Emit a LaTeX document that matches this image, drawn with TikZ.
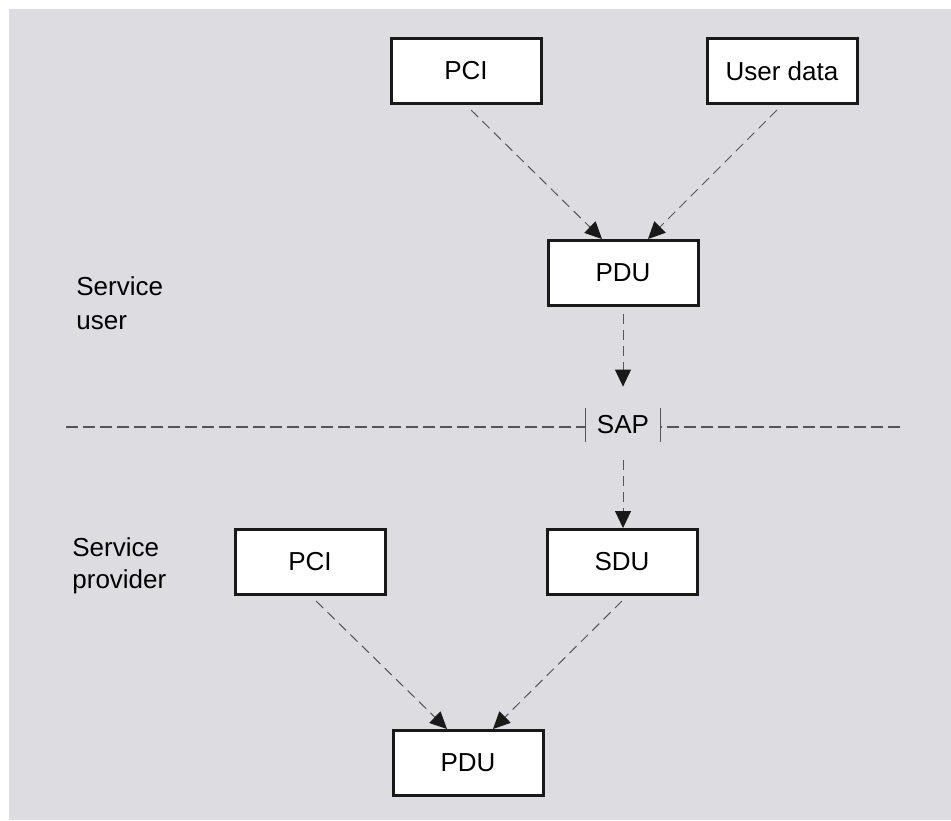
\documentclass[tikz,border=0pt]{standalone}
\usepackage{fontspec}
\setmainfont{Liberation Sans}
\usetikzlibrary{arrows.meta}

\definecolor{bgGray}{RGB}{221,221,225}
\definecolor{lineGray}{RGB}{85,85,85}

\begin{document}
\begin{tikzpicture}[x=0.5pt, y=-0.5pt,
    font=\fontsize{13}{17}\selectfont,
    unit/.style={rectangle, draw=black!90, line width=1.5pt, fill=white,
                 minimum width=75pt, minimum height=32.5pt, inner sep=0pt},
    flow/.style={draw=lineGray, line width=0.5pt, dash pattern=on 5pt off 3pt,
                 -{Triangle[length=8.5pt, width=8pt, color=black!90, fill=black!90]}},
    border/.style={draw=lineGray, line width=0.6pt, dash pattern=on 6pt off 2.5pt},
    side/.style={align=left, anchor=base west, inner sep=0pt}]

% background and margins
\useasboundingbox (0,0) rectangle (951,820);
\fill[bgGray] (9,9) rectangle (951,820);

% Service user side
\node[unit] (pcitop) at (466,71) {PCI};
\node[unit] (userdata) at (782,71) {User data};
\node[unit] (pdutop) at (623,273) {PDU};
\node[side] (user) at (76,329) {Service\\user};

% the access point
\node[minimum width=37pt, minimum height=17pt, inner sep=0pt] (sap) at (623,425) {SAP};
\draw[lineGray, line width=0.6pt] (sap.north west) -- (sap.south west)
                                  (sap.north east) -- (sap.south east);
\coordinate (lineL) at (66,427);
\coordinate (lineR) at (900,427);
\draw[border] (lineL) -- (lineL -| sap.west);
\draw[border] (lineR) -- (lineR -| sap.east);

% Service provider side
\node[unit] (pcibot) at (310,562) {PCI};
\node[unit] (sdu) at (622,562) {SDU};
\node[unit] (pdubot) at (468,763) {PDU};
\node[side, font=\fontsize{13}{16}\selectfont] (provider) at (72,588) {Service\\provider};

% the arrows
\draw[flow] ([xshift=2.5pt, yshift=-2.5pt]pcitop.south) -- ([xshift=-10.5pt]pdutop.north);
\draw[flow] ([xshift=-2.5pt, yshift=-2.5pt]userdata.south) -- ([xshift=12.5pt]pdutop.north);
\draw[flow] ([yshift=-3.5pt]pdutop.south) -- ([yshift=10.5pt]sap.north);
\draw[flow] ([yshift=-9pt]sap.south) -- ([xshift=0.5pt]sdu.north);
\draw[flow] ([xshift=3pt, yshift=-2.5pt]pcibot.south) -- ([xshift=-10.5pt]pdubot.north);
\draw[flow] ([yshift=-2.5pt]sdu.south) -- ([xshift=12.5pt]pdubot.north);
\end{tikzpicture}
\end{document}
